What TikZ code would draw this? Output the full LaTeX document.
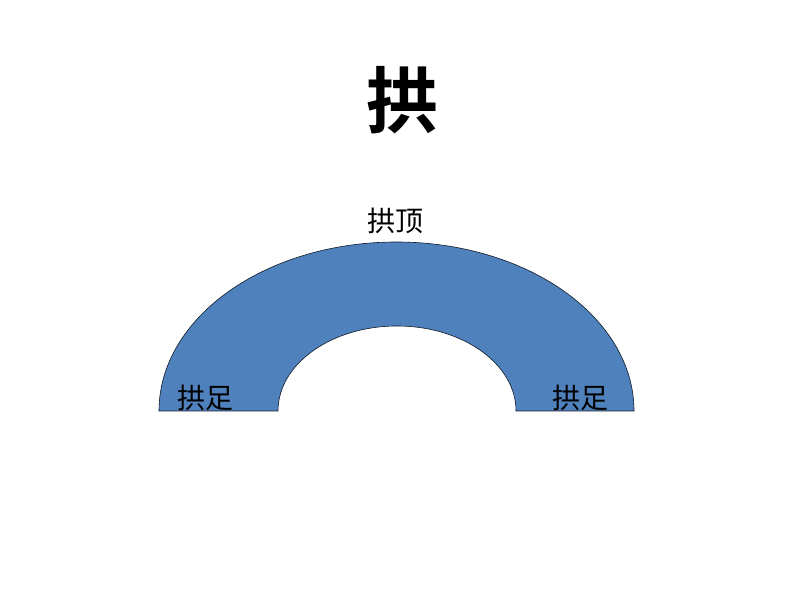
\documentclass[tikz,border=0pt]{standalone}
\usepackage{fontspec}
\usepackage{tikz}
\newfontfamily\cjk{Noto Sans CJK SC}
\newfontfamily\cjkbold{Noto Sans CJK SC Bold}
\definecolor{archblue}{HTML}{4F81BD}
\tikzset{
	titlenode/.style = {inner sep=0pt, font=\cjkbold\fontsize{72}{72}\selectfont},
	lbl/.style = {inner sep=0pt, font=\cjk\fontsize{28}{28}\selectfont},
	archbody/.style = {fill=archblue, draw=black!80!archblue, line width=0.6pt}
}
\begin{document}
\begin{tikzpicture}[x=1pt,y=1pt]
\useasboundingbox (0,0) rectangle (794,596);
\path[archbody] (159,185) arc [start angle=180, end angle=0, x radius=237.5, y radius=169]
	-- (516,185) arc [start angle=0, end angle=180, x radius=119, y radius=85] -- cycle;
\node [titlenode] (title) at (402,496) {拱};
\node [lbl] (crown) at (395,375) {拱顶};
\node [lbl] (footl) at (205,198) {拱足};
\node [lbl] (footr) at (580,198) {拱足};
\end{tikzpicture}
\end{document}
